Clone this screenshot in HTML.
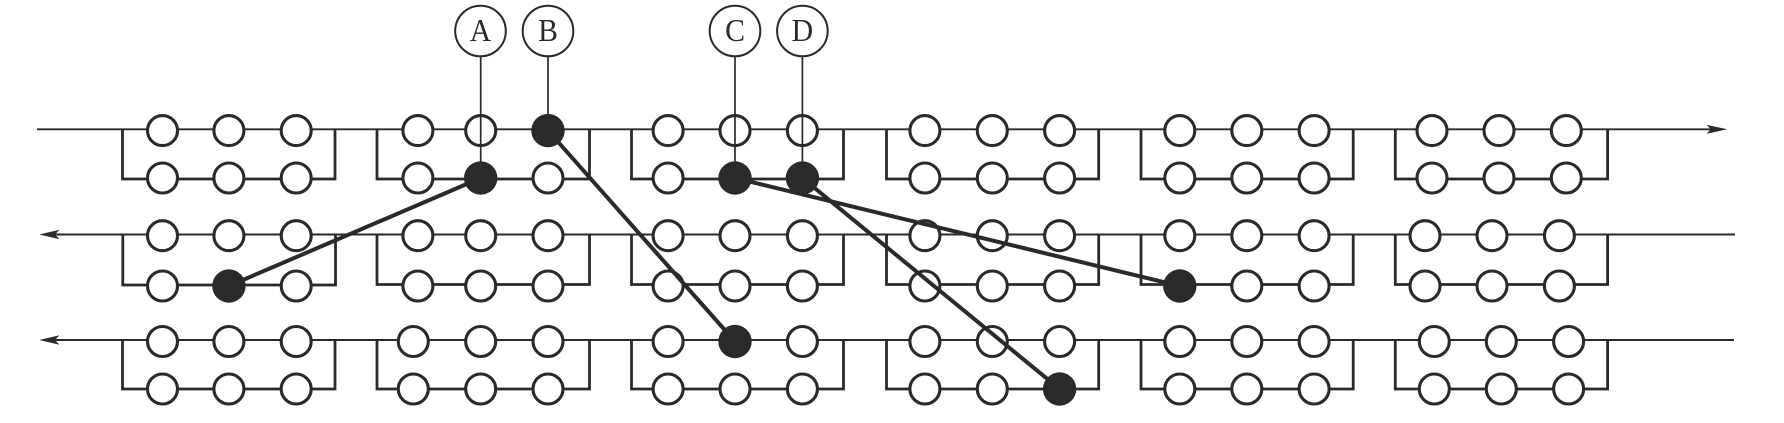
<!DOCTYPE html>
<html><head><meta charset="utf-8"><style>html,body{margin:0;padding:0;background:#fff}svg{display:block}</style></head><body>
<svg width="1784" height="423" viewBox="0 0 1784 423" xmlns="http://www.w3.org/2000/svg">
<rect width="1784" height="423" fill="#fff"/>
<g fill="none" stroke="#2b2a2a">
<g stroke-width="1.9">
<path d="M37 129.3H1712"/>
<path d="M52 234.5H1735"/>
<path d="M52 340H1734"/>
</g>
<g stroke-width="2.8">
<path d="M122.5 129.3V179H335V129.3"/>
<path d="M377 129.3V179H589.5V129.3"/>
<path d="M631.5 129.3V179H843.5V129.3"/>
<path d="M886.5 129.3V179H1098.7V129.3"/>
<path d="M1141 129.3V179H1353.2V129.3"/>
<path d="M1395.3 129.3V179H1607.6V129.3"/>
<path d="M122.8 234.5V285H335.5V234.5"/>
<path d="M377 234.5V284.5H589.5V234.5"/>
<path d="M631.5 234.5V284.5H843.5V234.5"/>
<path d="M886.5 234.5V284.5H1098.7V234.5"/>
<path d="M1141 234.5V284.5H1353.2V234.5"/>
<path d="M1395.3 234.5V284.5H1607.6V234.5"/>
<path d="M122.5 340V389H335V340"/>
<path d="M377 340V389H589.5V340"/>
<path d="M631.5 340V389H843.5V340"/>
<path d="M886.5 340V389H1098.7V340"/>
<path d="M1141 340V389H1353.2V340"/>
<path d="M1395.3 340V389H1607.6V340"/>
</g>
</g>
<g fill="#fff" stroke="#2b2a2a" stroke-width="3.1">
<circle cx="162.5" cy="130.6" r="15"/><circle cx="228.9" cy="130.6" r="15"/><circle cx="296.2" cy="130.6" r="15"/>
<circle cx="417.9" cy="130.6" r="15"/><circle cx="480.7" cy="130.6" r="15"/>
<circle cx="668.1" cy="130.6" r="15"/><circle cx="735" cy="130.6" r="15"/><circle cx="802.4" cy="130.6" r="15"/>
<circle cx="924.9" cy="130.6" r="15"/><circle cx="992.3" cy="130.6" r="15"/><circle cx="1059.6" cy="130.6" r="15"/>
<circle cx="1179.8" cy="130.6" r="15"/><circle cx="1246.8" cy="130.6" r="15"/><circle cx="1314.1" cy="130.6" r="15"/>
<circle cx="1432" cy="130.6" r="15"/><circle cx="1499" cy="130.6" r="15"/><circle cx="1566.3" cy="130.6" r="15"/>

<circle cx="162.5" cy="178" r="15"/><circle cx="228.9" cy="178" r="15"/><circle cx="296.2" cy="178" r="15"/>
<circle cx="417.9" cy="178" r="15"/><circle cx="548" cy="178" r="15"/>
<circle cx="668.1" cy="178" r="15"/>
<circle cx="924.9" cy="178" r="15"/><circle cx="992.3" cy="178" r="15"/><circle cx="1059.6" cy="178" r="15"/>
<circle cx="1179.8" cy="178" r="15"/><circle cx="1246.8" cy="178" r="15"/><circle cx="1314.1" cy="178" r="15"/>
<circle cx="1432" cy="178" r="15"/><circle cx="1499" cy="178" r="15"/><circle cx="1566.3" cy="178" r="15"/>

<circle cx="162.5" cy="235.7" r="15"/><circle cx="228.9" cy="235.7" r="15"/><circle cx="296.2" cy="235.7" r="15"/>
<circle cx="417.9" cy="235.7" r="15"/><circle cx="480.7" cy="235.7" r="15"/><circle cx="548" cy="235.7" r="15"/>
<circle cx="668.1" cy="235.7" r="15"/><circle cx="735" cy="235.7" r="15"/><circle cx="802.4" cy="235.7" r="15"/>
<circle cx="924.9" cy="235.7" r="15"/><circle cx="992.3" cy="235.7" r="15"/><circle cx="1059.6" cy="235.7" r="15"/>
<circle cx="1179.8" cy="235.7" r="15"/><circle cx="1246.8" cy="235.7" r="15"/><circle cx="1314.1" cy="235.7" r="15"/>
<circle cx="1425" cy="235.7" r="15"/><circle cx="1492" cy="235.7" r="15"/><circle cx="1559.4" cy="235.7" r="15"/>

<circle cx="162.5" cy="286" r="15"/><circle cx="296.2" cy="286" r="15"/>
<circle cx="417.9" cy="286" r="15"/><circle cx="480.7" cy="286" r="15"/><circle cx="548" cy="286" r="15"/>
<circle cx="668.1" cy="286" r="15"/><circle cx="735" cy="286" r="15"/><circle cx="802.4" cy="286" r="15"/>
<circle cx="924.9" cy="286" r="15"/><circle cx="992.3" cy="286" r="15"/><circle cx="1059.6" cy="286" r="15"/>
<circle cx="1246.8" cy="286" r="15"/><circle cx="1314.1" cy="286" r="15"/>
<circle cx="1425" cy="286" r="15"/><circle cx="1492" cy="286" r="15"/><circle cx="1559.4" cy="286" r="15"/>

<circle cx="162.5" cy="341.5" r="15"/><circle cx="228.9" cy="341.5" r="15"/><circle cx="296.2" cy="341.5" r="15"/>
<circle cx="413.3" cy="341.5" r="15"/><circle cx="480.7" cy="341.5" r="15"/><circle cx="548" cy="341.5" r="15"/>
<circle cx="668.1" cy="341.5" r="15"/><circle cx="802.4" cy="341.5" r="15"/>
<circle cx="924.9" cy="341.5" r="15"/><circle cx="992.3" cy="341.5" r="15"/><circle cx="1059.6" cy="341.5" r="15"/>
<circle cx="1179.8" cy="341.5" r="15"/><circle cx="1246.8" cy="341.5" r="15"/><circle cx="1314.1" cy="341.5" r="15"/>
<circle cx="1434.3" cy="341.5" r="15"/><circle cx="1501.3" cy="341.5" r="15"/><circle cx="1568.6" cy="341.5" r="15"/>

<circle cx="162.5" cy="389" r="15"/><circle cx="228.9" cy="389" r="15"/><circle cx="296.2" cy="389" r="15"/>
<circle cx="413.3" cy="389" r="15"/><circle cx="480.7" cy="389" r="15"/><circle cx="548" cy="389" r="15"/>
<circle cx="668.1" cy="389" r="15"/><circle cx="735" cy="389" r="15"/><circle cx="802.4" cy="389" r="15"/>
<circle cx="924.9" cy="389" r="15"/><circle cx="992.3" cy="389" r="15"/>
<circle cx="1179.8" cy="389" r="15"/><circle cx="1246.8" cy="389" r="15"/><circle cx="1314.1" cy="389" r="15"/>
<circle cx="1434.3" cy="389" r="15"/><circle cx="1501.3" cy="389" r="15"/><circle cx="1568.6" cy="389" r="15"/>
</g>
<g fill="none" stroke="#2b2a2a" stroke-width="1.7">
<path d="M480.7 57V178"/><path d="M548 57V130"/><path d="M735 57V178"/><path d="M802.4 57V178"/>
</g>
<g fill="none" stroke="#2b2a2a" stroke-width="4">
<path d="M480.7 178L228.9 286"/>
<path d="M548 130.6L735 341.5"/>
<path d="M735 178L1179.8 286"/>
<path d="M802.4 178L1059.6 389"/>
</g>
<g fill="#2b2a2a">
<circle cx="548" cy="130.6" r="16.7"/>
<circle cx="480.7" cy="178" r="16.7"/><circle cx="735" cy="178" r="16.7"/><circle cx="802.4" cy="178" r="16.7"/>
<circle cx="228.9" cy="286" r="16.7"/><circle cx="1179.8" cy="286" r="16.7"/>
<circle cx="735" cy="341.5" r="16.7"/>
<circle cx="1059.6" cy="389" r="16.7"/>
<path d="M1727.3 129.3L1706.7 124.9L1710.7 129.3L1706.7 133.8Z"/>
<path d="M39.3 234.5L59.5 229.8L55 234.5L59.5 239.3Z"/>
<path d="M39.3 340L59.5 335.3L55 340L59.5 344.8Z"/>
</g>
<g fill="#fff" stroke="#2b2a2a" stroke-width="2">
<circle cx="480.5" cy="31" r="25.3"/><circle cx="548" cy="31" r="25.3"/><circle cx="735" cy="31" r="25.3"/><circle cx="802.4" cy="31" r="25.3"/>
</g>
<g font-family="'Liberation Serif',serif" font-size="32" fill="#2b2a2a" text-anchor="middle">
<text transform="translate(480.5 41) scale(.93 1)">A</text>
<text transform="translate(548 41) scale(.93 1)">B</text>
<text transform="translate(735 41) scale(.93 1)">C</text>
<text transform="translate(802.4 41) scale(.93 1)">D</text>
</g>
</svg>
</body></html>
